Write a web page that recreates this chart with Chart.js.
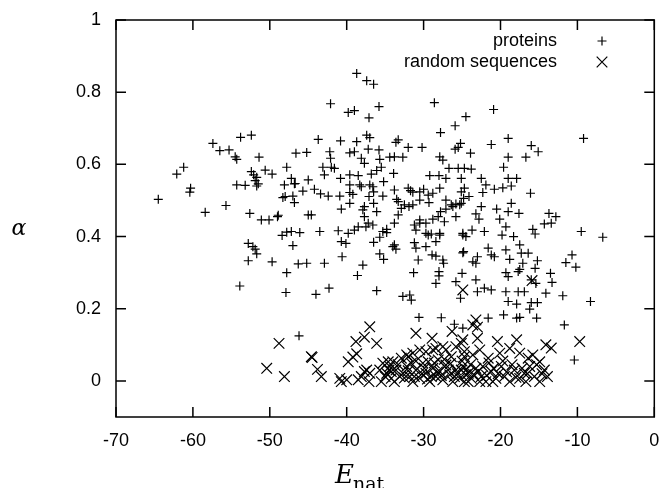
<!DOCTYPE html>
<html>
<head>
<meta charset="utf-8">
<script src="https://cdn.jsdelivr.net/npm/chart.js@4/dist/chart.umd.min.js"></script>
<style>
  html, body { margin: 0; padding: 0; background: #fff; }
  #wrap { width: 663px; height: 488px; position: relative; }
</style>
</head>
<body>
<div id="wrap"><canvas id="c" width="663" height="488"></canvas></div>
<script>
// ---- data ----
const xTicks = [-70, -60, -50, -40, -30, -20, -10, 0];
const xTickLabels = ['-70', '-60', '-50', '-40', '-30', '-20', '-10', '0'];
const yTicks = [0, 0.2, 0.4, 0.6, 0.8, 1];
const yTickLabels = ['0', '0.2', '0.4', '0.6', '0.8', '1'];
const seriesNames = ['proteins', 'random sequences'];

const proteinsX = [
-64.5,-62.1,-61.2,-60.3,-60.4,-58.4,-57.4,-56.5,-55.3,-54.5,-54.3,-55.7,-53.8,-52.4,-51.4,-52.4,-52.1,-51.7,-51.9,-51.5,
-51.7,-50.6,-49.7,-47.8,-54.3,-53.2,-48.1,-48.3,-48.0,-52.6,-51.1,-50.1,-48.9,-49.0,-48.4,-47.8,
-52.8,-52.2,-51.9,-51.7,-52.8,-49.7,-47.8,-53.9,-47.9,
-38.7,-37.4,-36.5,-42.1,-39.8,-39.0,-35.8,-37.1,-28.6,-24.5,-25.9,-27.8,-43.7,-40.8,-38.7,-37.4,-37.0,-33.3,-33.6,-25.2,
-25.5,-25.9,-46.6,-45.2,-42.2,-42.1,-39.6,-39.0,-37.2,-35.8,-38.1,-37.7,-35.7,-34.4,-33.8,-32.7,-32.0,-30.2,-27.9,-27.5,
-26.7,-25.5,-24.7,-43.1,-42.0,-41.6,-47.2,-46.7,-45.0,-42.9,-40.8,-39.6,-38.5,-36.8,-36.1,-35.5,-35.2,-33.9,-29.2,-28.0,
-27.1,-25.1,-46.8,-38.3,-38.1,-37.0,-36.6,-39.6,-45.7,-44.2,-43.4,-42.4,-47.0,-40.9,-39.6,-39.2,-37.1,-36.5,-35.3,-33.8,
-33.5,-32.0,-31.7,-31.4,-30.5,-30.0,-29.4,-28.8,-27.9,-27.1,-26.4,-25.8,-25.1,-24.7,-25.1,-24.1,-46.8,-40.7,-39.6,-37.9,
-37.7,-36.5,-36.1,-33.3,-32.5,-32.9,-31.9,-31.4,-30.5,-29.3,-27.8,-27.1,-26.2,-25.3,-45.0,-44.6,-37.7,-37.2,-37.5,-36.6,
-33.3,-33.8,-34.8,-35.3,-30.5,-29.7,-28.8,-28.1,-27.3,-25.8,-47.2,-46.1,-43.5,-41.1,-39.8,-39.0,-38.5,-31.2,-30.5,-31.0,
-29.7,-29.0,-27.9,-24.9,-24.5,
-47.0,-40.7,-40.1,-36.5,-35.7,-34.8,-33.8,-33.6,-34.0,-31.2,-31.0,-30.7,-29.7,-29.4,-28.4,-27.9,-24.9,-24.9,-28.9,-28.4,
-27.5,-27.4,-40.6,-35.7,-35.2,-37.9,-46.3,-45.2,-42.9,-38.6,-31.3,-28.0,-28.0,-28.4,-25.0,-25.8,-44.0,-42.3,-36.1,-32.7,
-31.8,-31.6,-25.2,-30.6,-27.7,-26.0,-24.9,-46.2,
-20.9,-19.0,-21.2,-16.0,-15.1,-16.7,-19.0,-23.9,-9.2,-23.8,-19.6,-22.5,-21.9,-19.0,-17.9,-18.6,-19.7,-20.8,-24.8,-22.3,
-16.1,-22.5,-20.5,-18.6,-19.0,-17.6,-23.2,-22.8,-20.1,-19.3,-13.7,-12.8,-13.4,-14.3,-9.5,-6.7,-23.7,-22.1,-19.8,-18.3,
-15.8,-15.5,
-24.8,-23.0,-23.6,-23.2,-21.6,-21.2,-20.8,-19.3,-18.8,-17.5,-17.3,-16.4,-15.2,-17.1,-17.5,-17.7,-15.5,-19.3,-19.0,-16.0,
-15.4,-13.5,-13.3,-10.7,-11.5,-10.2,-23.2,-23.0,-22.1,-21.2,-19.3,-17.7,-16.9,-14.1,-19.0,-17.9,-16.0,-15.2,-16.2,-11.9,
-8.3,-21.6,-19.6,-17.9,-17.5,-15.3,-11.7,-10.4
];
const proteinsY = [
0.503,0.573,0.592,0.534,0.523,0.467,0.658,0.638,0.640,0.621,0.614,0.486,0.675,0.681,0.620,0.580,0.571,0.564,0.555,0.546,
0.540,0.584,0.573,0.592,0.543,0.542,0.543,0.508,0.511,0.464,0.446,0.446,0.459,0.455,0.403,0.412,
0.381,0.372,0.365,0.352,0.333,0.330,0.300,0.263,0.245,
0.852,0.832,0.822,0.768,0.744,0.749,0.760,0.729,0.771,0.732,0.707,0.688,0.669,0.665,0.663,0.681,0.674,0.668,0.661,0.658,
0.647,0.642,0.631,0.633,0.635,0.617,0.632,0.635,0.642,0.640,0.617,0.603,0.614,0.620,0.621,0.620,0.647,0.647,0.621,0.612,
0.589,0.589,0.589,0.592,0.592,0.589,0.561,0.547,0.557,0.571,0.561,0.571,0.569,0.573,0.583,0.592,0.552,0.575,0.569,0.569,
0.561,0.561,0.546,0.543,0.538,0.543,0.538,0.543,0.526,0.531,0.518,0.512,0.512,0.512,0.522,0.517,0.511,0.524,0.512,0.529,
0.503,0.534,0.527,0.523,0.524,0.531,0.515,0.520,0.534,0.501,0.488,0.490,0.492,0.534,0.524,0.511,0.494,0.476,0.492,0.474,
0.483,0.492,0.469,0.497,0.488,0.478,0.483,0.488,0.501,0.494,0.469,0.476,0.483,0.488,0.460,0.460,0.455,0.437,0.427,0.432,
0.460,0.437,0.420,0.414,0.446,0.437,0.448,0.455,0.441,0.455,0.414,0.411,0.414,0.416,0.409,0.418,0.427,0.432,0.437,0.418,
0.409,0.407,0.409,0.409,0.400,
0.375,0.386,0.381,0.384,0.398,0.411,0.377,0.365,0.372,0.383,0.368,0.335,0.372,0.404,0.386,0.404,0.404,0.355,0.349,0.346,
0.335,0.326,0.344,0.352,0.337,0.321,0.324,0.326,0.326,0.292,0.300,0.303,0.291,0.270,0.298,0.275,0.240,0.257,0.250,0.234,
0.238,0.224,0.229,0.176,0.175,0.157,0.146,0.125,
0.752,0.672,0.655,0.652,0.635,0.620,0.620,0.631,0.672,0.587,0.592,0.561,0.543,0.561,0.561,0.540,0.535,0.531,0.506,0.522,
0.520,0.483,0.476,0.492,0.469,0.464,0.463,0.448,0.448,0.427,0.464,0.455,0.437,0.435,0.414,0.398,0.418,0.414,0.404,0.400,
0.420,0.407,
0.358,0.344,0.330,0.326,0.368,0.349,0.344,0.363,0.337,0.377,0.354,0.354,0.333,0.326,0.309,0.303,0.312,0.300,0.289,0.280,
0.270,0.298,0.273,0.349,0.328,0.315,0.280,0.247,0.257,0.252,0.247,0.247,0.247,0.243,0.220,0.213,0.217,0.217,0.199,0.236,
0.220,0.174,0.183,0.174,0.176,0.174,0.155,0.058
];

const randomX = [
-48.8,-50.4,-48.1,-37.0,-37.7,-38.8,-36.1,-31.0,-28.9,-26.3,-44.5,-44.6,-38.7,-39.2,-39.8,-43.8,-43.3,-40.9,-40.0,-40.7,
-37.4,-37.0,-38.1,-37.7,-38.5,-37.1,-32.0,-31.4,-30.5,-29.7,-28.8,-28.4,-27.5,-27.1,-25.8,-25.1,
-35.3,-34.4,-34.0,-34.8,-34.2,-33.6,-33.8,-33.1,-32.7,-32.2,-31.8,-31.4,-31.0,-30.5,-30.1,-29.7,-29.2,-28.8,-28.4,-27.9,
-27.5,-27.1,-26.6,-26.2,-25.8,-25.3,-24.9,-24.5,-24.2,-35.5,-34.6,-32.9,-31.6,-29.4,-28.1,-26.4,-24.7,-35.7,-34.2,-29.0,
-26.0,-31.2,-32.2,
-23.2,-23.6,-23.0,-24.9,-15.9,-24.9,-23.0,-20.4,-17.9,-14.1,-13.4,-9.7,-24.7,-23.6,-22.7,-21.6,-20.1,-18.8,-17.5,-16.4,
-15.8,-14.9,
-25.1,-24.2,-23.8,-23.2,-22.5,-21.9,-21.2,-20.6,-19.9,-19.5,-18.8,-18.2,-17.5,-16.9,-16.2,-15.6,-14.9,-14.3,-13.9,-24.7,
-22.7,-21.0,-16.7,
-35.0,-34.5,-33.3,-32.5,-32.0,-31.0,-30.2,-29.9,-29.5,-28.6,-28.2,-27.7,-27.3,-26.8,-26.5,-25.6,-25.0,-24.4,-23.9,-23.5,
-22.9,-22.3,-21.8,-21.5,-20.9,-20.3,-19.7,-19.2,-18.5,-18.0,-17.2,-16.5,-15.3,-14.6
];
const randomY = [
0.104,0.035,0.012,0.150,0.121,0.109,0.104,0.132,0.118,0.137,0.065,0.067,0.075,0.066,0.053,0.032,0.012,0.007,0.003,-0.002,
0.030,0.021,0.012,0.026,0.003,-0.002,0.067,0.077,0.086,0.081,0.086,0.090,0.095,0.086,0.095,0.104,
0.049,0.040,0.053,0.021,0.007,0.030,-0.002,0.012,0.021,0.040,0.012,-0.002,0.030,0.007,0.049,0.021,-0.002,0.035,0.012,0.026,
0.003,0.044,0.017,-0.002,0.030,0.007,0.040,0.017,-0.002,-0.002,0.053,0.063,0.049,0.053,0.058,0.067,0.067,0.030,0.026,0.012,
0.012,0.012,0.072,
0.169,0.155,0.149,0.252,0.278,0.114,0.118,0.109,0.114,0.100,0.091,0.109,0.081,0.072,0.086,0.063,0.077,0.090,0.077,0.063,
0.072,0.053,
0.030,0.021,0.007,0.035,0.012,-0.002,0.026,0.007,0.040,0.012,-0.002,0.030,0.007,0.021,0.040,0.012,-0.002,0.030,0.012,-0.002,
-0.002,-0.002,-0.002,
0.012,0.030,0.045,0.008,0.028,0.055,0.020,0.035,0.005,0.050,0.025,0.015,0.060,0.030,0.048,0.020,0.055,0.032,0.045,0.018,
0.025,0.040,0.015,0.050,0.035,0.020,0.055,0.025,0.045,0.010,0.035,0.020,0.045,0.020
];

// ---- chart ----
const toPts = (xs, ys) => xs.map((x, i) => ({ x: x, y: ys[i] }));
const TICK_FONT = '18px "Liberation Sans", Arial, sans-serif';

const framePlugin = {
  id: 'frame',
  afterDraw(chart) {
    const ctx = chart.ctx;
    const a = chart.chartArea;
    const xs = chart.scales.x, ys = chart.scales.y;
    ctx.save();
    ctx.strokeStyle = '#000';
    ctx.lineWidth = 1.5;
    ctx.strokeRect(a.left, a.top, a.right - a.left, a.bottom - a.top);
    const tl = 10;
    ctx.beginPath();
    xTicks.forEach(v => {
      const px = xs.getPixelForValue(v);
      ctx.moveTo(px, a.bottom); ctx.lineTo(px, a.bottom - tl);
      ctx.moveTo(px, a.top); ctx.lineTo(px, a.top + tl);
    });
    yTicks.forEach(v => {
      const py = ys.getPixelForValue(v);
      ctx.moveTo(a.left, py); ctx.lineTo(a.left + tl, py);
      ctx.moveTo(a.right, py); ctx.lineTo(a.right - tl, py);
    });
    ctx.stroke();

    // legend
    ctx.fillStyle = '#000';
    ctx.font = TICK_FONT;
    ctx.textAlign = 'right';
    ctx.textBaseline = 'middle';
    const legY = [41, 62];
    const styles = [
      { pointStyle: 'cross', radius: 4.5, borderWidth: 1.2 },
      { pointStyle: 'crossRot', radius: 7.5, borderWidth: 1.2 }
    ];
    seriesNames.forEach((name, i) => {
      ctx.fillText(name, 557, legY[i]);
      ctx.strokeStyle = '#000';
      ctx.lineWidth = 1.2;
      Chart.helpers.drawPoint(ctx, styles[i], 602, legY[i]);
    });

    // y axis title: alpha
    ctx.textAlign = 'center';
    ctx.textBaseline = 'alphabetic';
    ctx.font = 'italic 22px "DejaVu Serif", serif';
    ctx.fillText('\u03b1', 19, 235);

    // x axis title: E_nat
    ctx.textAlign = 'left';
    ctx.font = 'italic 26px "DejaVu Serif", serif';
    ctx.fillText('E', 335, 483);
    const eW = ctx.measureText('E').width;
    ctx.font = '19px "DejaVu Serif", serif';
    ctx.fillText('nat', 335 + eW - 1, 490);
    ctx.restore();
  }
};

new Chart(document.getElementById('c'), {
  type: 'scatter',
  data: {
    datasets: [
      {
        label: seriesNames[0],
        data: toPts(proteinsX, proteinsY),
        pointStyle: 'cross',
        pointRadius: 4.5,
        pointBorderWidth: 1.2,
        borderColor: '#000',
        backgroundColor: '#000'
      },
      {
        label: seriesNames[1],
        data: toPts(randomX, randomY),
        pointStyle: 'crossRot',
        pointRadius: 7.5,
        pointBorderWidth: 1.2,
        borderColor: '#000',
        backgroundColor: '#000'
      }
    ]
  },
  options: {
    responsive: false,
    animation: false,
    devicePixelRatio: 1,
    layout: { padding: { top: 20, right: 8, left: 0, bottom: 0 } },
    plugins: { legend: { display: false }, tooltip: { enabled: false } },
    scales: {
      x: {
        type: 'linear',
        min: -70, max: 0,
        grid: { display: false, drawTicks: false },
        border: { display: false },
        afterBuildTicks: s => { s.ticks = xTicks.map(v => ({ value: v })); },
        afterFit: s => { s.height = 71; s.paddingLeft = 0; s.paddingRight = 0; },
        ticks: {
          autoSkip: false,
          maxRotation: 0,
          padding: 13,
          color: '#000',
          font: { family: '"Liberation Sans", Arial, sans-serif', size: 18 },
          callback: (v) => { const i = xTicks.indexOf(v); return i >= 0 ? xTickLabels[i] : ''; }
        }
      },
      y: {
        type: 'linear',
        min: -0.1, max: 1,
        grid: { display: false, drawTicks: false },
        border: { display: false },
        afterBuildTicks: s => { s.ticks = yTicks.map(v => ({ value: v })); },
        afterFit: s => { s.width = 116; s.paddingTop = 0; s.paddingBottom = 0; },
        ticks: {
          autoSkip: false,
          padding: 15,
          color: '#000',
          font: { family: '"Liberation Sans", Arial, sans-serif', size: 18 },
          callback: (v) => { const i = yTicks.findIndex(t => Math.abs(t - v) < 1e-9); return i >= 0 ? yTickLabels[i] : ''; }
        }
      }
    }
  },
  plugins: [framePlugin]
});
</script>
</body>
</html>
